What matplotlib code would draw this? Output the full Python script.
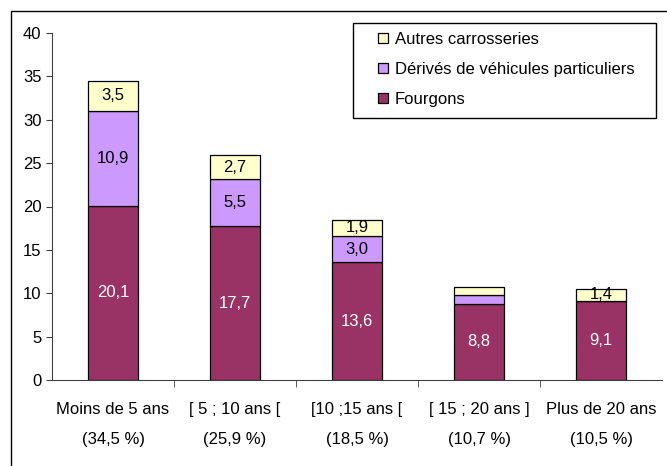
import numpy as np
import matplotlib.pyplot as plt
from matplotlib.patches import Rectangle

plt.rcParams['font.family'] = ['Liberation Sans', 'DejaVu Sans']

categories = ["Moins de 5 ans", "[ 5 ; 10 ans [", "[10 ;15 ans [", "[ 15 ; 20 ans ]", "Plus de 20 ans"]
shares = ["(34,5 %)", "(25,9 %)", "(18,5 %)", "(10,7 %)", "(10,5 %)"]
fourgons = [20.1, 17.7, 13.6, 8.8, 9.1]
derives = [10.9, 5.5, 3.0, 1.0, 0.0]
autres = [3.5, 2.7, 1.9, 0.9, 1.4]
show_derives = [True, True, True, False, False]
show_autres = [True, True, True, False, True]

fs = 12
W, H = 667, 466
fig = plt.figure(figsize=(W / 100, H / 100), dpi=100)
# outer frame
fig.patches.append(Rectangle((11 / W, -0.05), 1.0, 1 - 11 / H + 0.05, transform=fig.transFigure,
                             fill=False, edgecolor='black', linewidth=1.0))
ax = fig.add_axes([52 / W, 1 - 380 / H, 610 / W, 347 / H])

x = np.arange(len(categories))
w = 0.41
b1 = ax.bar(x, fourgons, w, color='#993366', edgecolor='black', linewidth=0.9, label='Fourgons')
b2 = ax.bar(x, derives, w, bottom=fourgons, color='#CC99FF', edgecolor='black', linewidth=0.9,
            label='Dérivés de véhicules particuliers')
bot3 = np.add(fourgons, derives)
b3 = ax.bar(x, autres, w, bottom=bot3, color='#FFFFCC', edgecolor='black', linewidth=0.9,
            label='Autres carrosseries')

def fmt(v):
    return f"{v:.1f}".replace('.', ',')

for i in range(len(x)):
    ax.text(x[i], fourgons[i] / 2, fmt(fourgons[i]), ha='center', va='center', color='white', fontsize=fs)
    if show_derives[i]:
        ax.text(x[i], fourgons[i] + derives[i] / 2, fmt(derives[i]), ha='center', va='center', fontsize=fs)
    if show_autres[i]:
        ax.text(x[i], bot3[i] + autres[i] / 2, fmt(autres[i]), ha='center', va='center', fontsize=fs)

ax.set_xlim(-0.5, len(x) - 0.5)
ax.set_ylim(0, 40)
ax.set_yticks(range(0, 41, 5))
ax.set_xticks(x)
ax.set_xticklabels([f"{c}\n{s}" for c, s in zip(categories, shares)], fontsize=fs, linespacing=2.2)
ax.set_xticks(np.arange(0.5, len(x) - 0.5, 1), minor=True)
ax.tick_params(axis='x', which='major', length=0, pad=16)
ax.tick_params(axis='x', which='minor', length=5, direction='out', color='#404040')
ax.tick_params(axis='y', labelsize=fs, length=4, color='#404040')
ax.spines['top'].set_visible(False)
ax.spines['right'].set_visible(False)
ax.spines['left'].set_color('#404040')
ax.spines['bottom'].set_color('#404040')

# legend box
fig.patches.append(Rectangle((353 / W, 1 - 118 / H), 303 / W, 95 / H, transform=fig.transFigure,
                             facecolor='white', edgecolor='black', linewidth=1.0, zorder=3))
handles = [b3, b2, b1]
leg = fig.legend(handles, [h.get_label() for h in handles], loc='upper left',
                 bbox_to_anchor=(378 / W, 1 - 32 / H), bbox_transform=fig.transFigure,
                 fontsize=fs, frameon=False, handlelength=0.6, handleheight=0.6,
                 labelspacing=0.9, borderpad=0, handletextpad=0.4, borderaxespad=0)
leg.set_zorder(4)

fig.savefig('out.png', dpi=100)
